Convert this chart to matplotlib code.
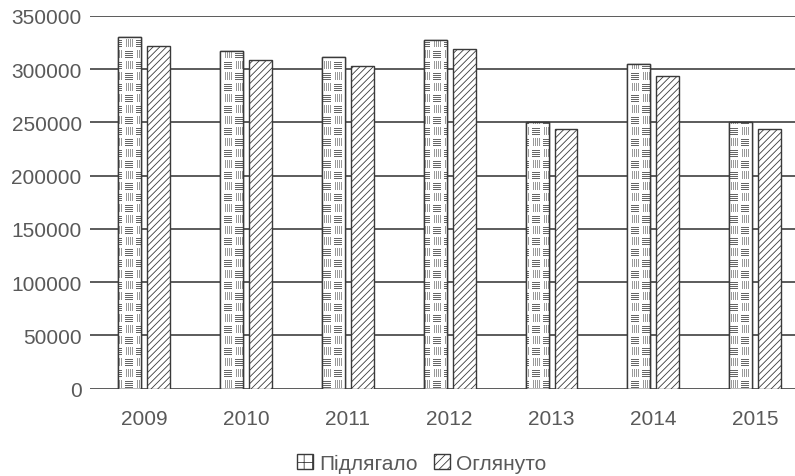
import numpy as np
import matplotlib
matplotlib.use("Agg")
import matplotlib.pyplot as plt
from matplotlib.patches import Patch

plt.rcParams['font.family'] = ['Liberation Sans', 'DejaVu Sans']
plt.rcParams['hatch.linewidth'] = 0.6

years = ['2009', '2010', '2011', '2012', '2013', '2014', '2015']
pidlyahalo = [330000, 316800, 311500, 327400, 250400, 304900, 250400]
ohlianuto = [322100, 308700, 303000, 319000, 243800, 293600, 243800]
yticks = [0, 50000, 100000, 150000, 200000, 250000, 300000, 350000]

TEXT = '#595959'
EDGE = '#3a3a3a'


def _basketweave(w, h, cell=11):
    """ Grey-on-white weave: cells of horizontal and vertical strokes in a checkerboard. """
    img = np.ones((h, w, 3))
    for r in range(h):
        for c in range(w):
            i, j = r // cell, c // cell
            dr, dc = r % cell, c % cell
            if dr in (0, 1, cell - 1) or dc in (0, 1, cell - 1):
                continue
            if (i + j) % 2 == 0:
                if dr % 2 == 1:
                    img[r, c] = 0.4
            else:
                if dc % 2 == 1:
                    img[r, c] = 0.6
    return img


fig = plt.figure(figsize=(7.95, 4.77), dpi=100)
ax = fig.add_axes([90 / 795, 1 - 389.5 / 477, 705 / 795, 372.5 / 477])

x = np.arange(len(years))
width = 0.225
offset = 0.142
xlim = (-0.53, 6.39)
ylim = (0, 350000)

bars1 = ax.bar(x - offset, pidlyahalo, width, facecolor='white', edgecolor=EDGE,
               linewidth=1.0, zorder=3)
bars2 = ax.bar(x + offset, ohlianuto, width, facecolor='white', edgecolor=EDGE,
               linewidth=1.0, hatch='/////', zorder=3)

# weave texture for the first series, clipped to each bar
weave = _basketweave(705, 373)
for b in bars1:
    im = ax.imshow(weave, extent=(xlim[0], xlim[1], ylim[0], ylim[1]), aspect='auto',
                   interpolation='nearest', zorder=3.5)
    im.set_clip_path(b)
    edge = plt.Rectangle(b.get_xy(), b.get_width(), b.get_height(), fill=False,
                         edgecolor=EDGE, linewidth=1.0, zorder=4)
    ax.add_patch(edge)

ax.set_xlim(*xlim)
ax.set_ylim(*ylim)
ax.set_yticks(yticks)
ax.set_yticklabels([str(v) for v in yticks])
ax.set_xticks(x)
ax.set_xticklabels(years)
ax.yaxis.grid(True, color='#404040', linewidth=1.2, zorder=0)
ax.set_axisbelow(True)
for s in ax.spines.values():
    s.set_visible(False)
ax.tick_params(axis='both', length=0, labelsize=15, colors=TEXT)
ax.tick_params(axis='y', pad=6)
ax.tick_params(axis='x', pad=15)

handles = [Patch(facecolor='white', edgecolor=EDGE, hatch='++', label='Підлягало'),
           Patch(facecolor='white', edgecolor=EDGE, hatch='////', label='Оглянуто')]
fig.legend(handles=handles, loc='center', bbox_to_anchor=(422 / 795, 1 - 464 / 477),
           ncol=2, frameon=False, fontsize=15, labelcolor=TEXT, handlelength=0.75,
           handleheight=0.75, handletextpad=0.3, columnspacing=0.8)

fig.savefig('out.png', dpi=100)
